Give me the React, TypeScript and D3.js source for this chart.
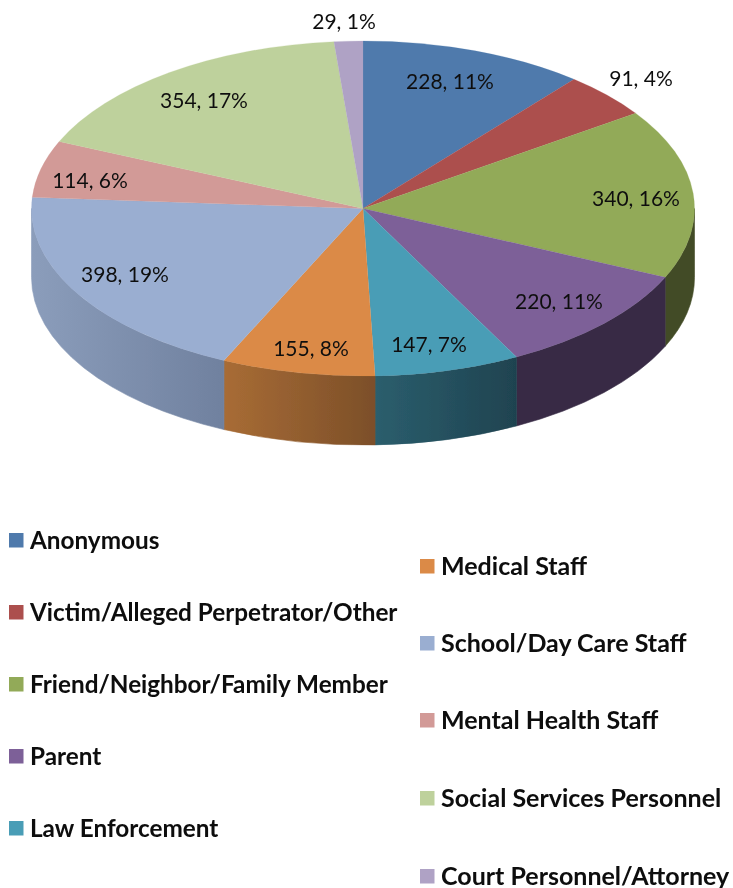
import React from "react";
import * as d3 from "d3";

const categories = ["Anonymous","Victim/Alleged Perpetrator/Other","Friend/Neighbor/Family Member","Parent","Law Enforcement","Medical Staff","School/Day Care Staff","Mental Health Staff","Social Services Personnel","Court Personnel/Attorney"];
const values = [228,91,340,220,147,155,398,114,354,29];
const percents = [11,4,16,11,7,8,19,6,17,1];
const topColors = ["#4f7aac","#ac4f4e","#92aa58","#7d6098","#4a9db6","#db8a46","#9aaed1","#d29a97","#bed19c","#afa2c5"];
const sideStart = ["#2f4a68","#682f2f","#434c25","#382b45","#2b5e6d","#a86c35","#8b9dbb","#7f5c5a","#72805d","#6a6178"];
const sideEnd = ["#2f4a68","#682f2f","#434c25","#382b45","#1f4350","#7c4f29","#70819f","#7f5c5a","#72805d","#6a6178"];
const labelCenters: [number, number][] = [[450,80],[641,77],[636,197],[559,300],[429,343],[311,347],[125,273],[90,179],[204,99],[344,20]];
const legendCol1Y = [540,612,684,756,828];
const legendCol2Y = [566,643,720,798,876];

const W = 733, H = 888;
const cx = 363, cy = 208.5, rx = 331.5, ry = 167.5, depth = 69;

export default function App() {
  const pie = d3.pie<number>().sort(null).startAngle(0).endAngle(2 * Math.PI);
  const slices = pie(values);
  const arc = d3.arc<d3.PieArcDatum<number>>().innerRadius(0).outerRadius(rx);
  const px = (a: number) => cx + rx * Math.sin(a);
  const py = (a: number) => cy - ry * Math.cos(a);
  const lo = Math.PI / 2, hi = (3 * Math.PI) / 2;
  const walls = slices.map((s, i) => {
    const a0 = Math.max(s.startAngle, lo), a1 = Math.min(s.endAngle, hi);
    if (a1 <= a0) return null;
    const d = `M${px(a0)},${py(a0)}A${rx},${ry} 0 0 1 ${px(a1)},${py(a1)}L${px(a1)},${py(a1) + depth}A${rx},${ry} 0 0 0 ${px(a0)},${py(a0) + depth}Z`;
    return { d, i, x0: Math.min(px(a0), px(a1)), x1: Math.max(px(a0), px(a1)) };
  }).filter(Boolean) as { d: string; i: number; x0: number; x1: number }[];
  const font = "Lato, 'Open Sans', sans-serif";
  return (
    <svg width={W} height={H} viewBox={`0 0 ${W} ${H}`} style={{ position: "absolute", left: 0, top: 0, display: "block", background: "#fff" }}>
      <defs>
        {walls.map((w) => (
          <linearGradient key={w.i} id={`wall${w.i}`} gradientUnits="userSpaceOnUse" x1={w.x0} x2={w.x1} y1={0} y2={0}>
            <stop offset="0" stopColor={sideStart[w.i]} />
            <stop offset="1" stopColor={sideEnd[w.i]} />
          </linearGradient>
        ))}
        <filter id="soft" x="0" y="0" width="100%" height="100%">
          <feGaussianBlur stdDeviation="0.45" />
        </filter>
      </defs>
      <g filter="url(#soft)">
        {walls.map((w) => <path key={w.i} d={w.d} fill={`url(#wall${w.i})`} stroke={`url(#wall${w.i})`} strokeWidth={0.6} />)}
        <g transform={`translate(${cx},${cy}) scale(1,${ry / rx})`}>
          {slices.map((s, i) => <path key={i} d={arc(s) as string} fill={topColors[i]} stroke={topColors[i]} strokeWidth={0.3} />)}
        </g>
        {labelCenters.map(([x, y], i) => (
          <text key={i} x={x} y={y} textAnchor="middle" dominantBaseline="central" fontFamily={font} fontSize={21} fill="#111">
            {`${values[i]}, ${percents[i]}%`}
          </text>
        ))}
        {categories.map((c, i) => {
          const first = i < 5;
          const y = first ? legendCol1Y[i] : legendCol2Y[i - 5];
          const sx = first ? 9 : 420;
          return (
            <g key={c}>
              <rect x={sx} y={y - 7} width={14.5} height={14.5} fill={topColors[i]} />
              <text x={first ? 30 : 441} y={y - 1} dominantBaseline="central" fontFamily={font} fontWeight={700} fontSize={first ? 24.3 : 25} fill="#0a0a0a">{c}</text>
            </g>
          );
        })}
      </g>
    </svg>
  );
}
